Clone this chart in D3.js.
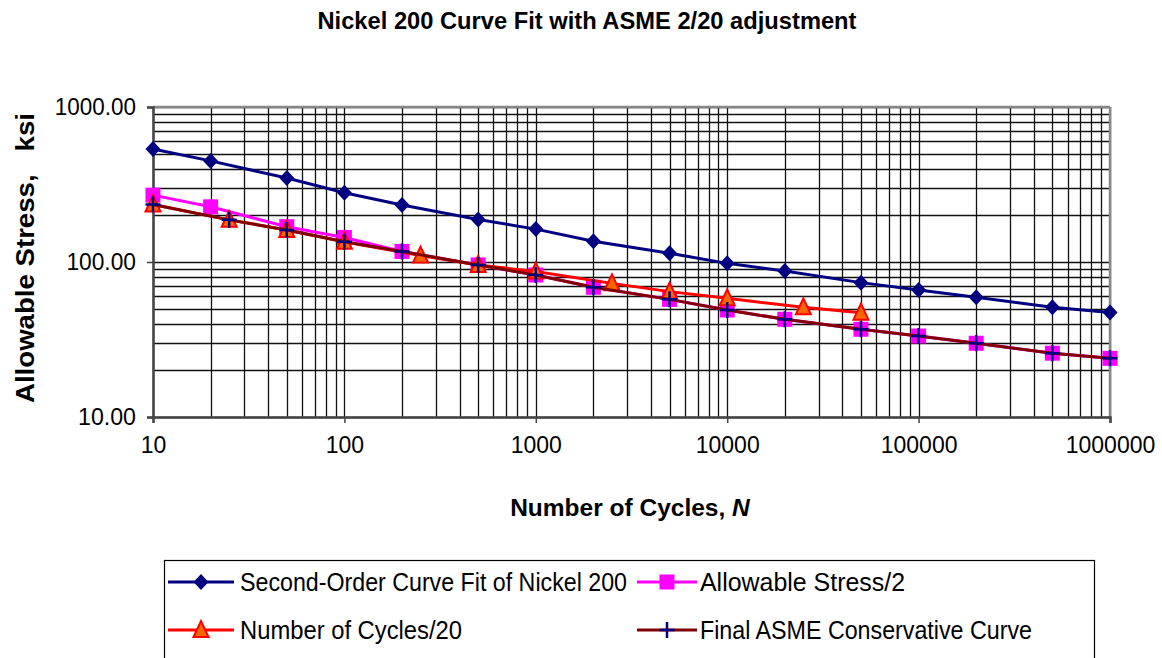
<!DOCTYPE html>
<html>
<head>
<meta charset="utf-8">
<script src="https://cdn.jsdelivr.net/npm/d3@7"></script>
<style>
  body { margin: 0; background: #fff; }
  text { font-family: "Liberation Sans", Arial, sans-serif; }
</style>
</head>
<body>
<div id="chart"></div>
<script>
// data
var cyclesFit = [10, 20, 50, 100, 200, 500, 1000, 2000, 5000, 10000, 20000, 50000, 100000, 200000, 500000, 1000000];
var stressFit = [536, 449, 348, 280, 233, 188, 163, 136, 114, 98, 87.5, 73.6, 66, 59.2, 51, 47.3];

var cyclesHalf = [10, 20, 50, 100, 200, 500, 1000, 2000, 5000, 10000, 20000, 50000, 100000, 200000, 500000, 1000000];
var stressHalf = [270, 227, 169, 144, 117, 95.7, 82.4, 68.7, 57.4, 49, 42.7, 36.8, 33.3, 29.9, 25.8, 23.9];

var cyclesTwentieth = [10, 25, 50, 100, 250, 500, 1000, 2500, 5000, 10000, 25000, 50000];
var stressTwentieth = [235, 187, 161, 135, 110, 95.7, 86.7, 72.8, 64.4, 58.3, 51, 47.1];

var cyclesFinal = [10, 25, 50, 100, 200, 500, 1000, 2000, 5000, 10000, 20000, 50000, 100000, 200000, 500000, 1000000];
var stressFinal = [235, 187, 161, 135, 117, 95.7, 82.4, 68.7, 57.4, 49, 42.7, 36.8, 33.3, 29.9, 25.8, 23.9];

var xTicks = [10, 100, 1000, 10000, 100000, 1000000];
var yTicks = [10, 100, 1000];

var seriesNames = ["Second-Order Curve Fit of Nickel 200", "Allowable Stress/2",
                   "Number of Cycles/20", "Final ASME Conservative Curve"];

/******************************setup***************************************/
var width = 1162, height = 658;

var svg = d3.select("#chart").append("svg")
	.attr("width", width)
	.attr("height", height);

var x = d3.scaleLog().domain([10, 1000000]).range([153, 1110]);
var y = d3.scaleLog().domain([10, 1000]).range([417, 107]);

// minor + major grid values, 1..9 per decade
function gridValues(lo, hi) {
	var out = [];
	for (var p = lo; p < hi; p *= 10)
		for (var k = 1; k <= 9; k++) out.push(k * p);
	out.push(hi);
	return out;
}

var grid = svg.append("g").attr("class", "grid");
grid.selectAll(".vgrid")
	.data(gridValues(10, 1000000))
	.enter().append("line")
	.attr("x1", function(d) { return Math.round(x(d)) + 0.5; })
	.attr("x2", function(d) { return Math.round(x(d)) + 0.5; })
	.attr("y1", y(1000)).attr("y2", y(10))
	.style("stroke", "#111")
	.style("stroke-width", 1.3);

grid.selectAll(".hgrid")
	.data(gridValues(10, 1000))
	.enter().append("line")
	.attr("y1", function(d) { return Math.round(y(d)) + 0.5; })
	.attr("y2", function(d) { return Math.round(y(d)) + 0.5; })
	.attr("x1", x(10)).attr("x2", x(1000000))
	.style("stroke", "#111")
	.style("stroke-width", 1.3);

// plot border (top/right grey), axes (left/bottom)
svg.append("line").attr("x1", x(10)).attr("x2", x(1000000)).attr("y1", y(1000)).attr("y2", y(1000))
	.style("stroke", "#888").style("stroke-width", 2.5);
svg.append("line").attr("x1", x(1000000)).attr("x2", x(1000000)).attr("y1", y(1000)).attr("y2", y(10))
	.style("stroke", "#888").style("stroke-width", 2.5);

var xAxis = svg.append("g")
	.attr("transform", "translate(0," + y(10) + ")")
	.call(d3.axisBottom(x).tickValues(xTicks).tickFormat(d3.format("d")).tickSize(6).tickPadding(14));
var yAxis = svg.append("g")
	.attr("transform", "translate(" + x(10) + ",0)")
	.call(d3.axisLeft(y).tickValues(yTicks).tickFormat(d3.format(".2f")).tickSize(6).tickPadding(11));

[xAxis, yAxis].forEach(function(a) {
	a.select(".domain").style("stroke", "#444").style("stroke-width", 2.5);
	a.selectAll(".tick line").style("stroke", "#444").style("stroke-width", 1.5);
	a.selectAll(".tick text")
		.style("font-size", "24px")
		.style("font-family", "'Liberation Sans', Arial, sans-serif")
		.style("fill", "#000")
		.attr("lengthAdjust", "spacingAndGlyphs");
});
xAxis.selectAll(".tick text").attr("dy", "0.66em")
	.attr("textLength", function(d) { return String(d).length * 12.8; });
yAxis.selectAll(".tick text")
	.attr("textLength", function(d) { return d3.format(".2f")(d).length * 11.6; });

/******************************markers***************************************/
function drawMarker(g, type, cx, cy) {
	if (type == "diamond") {
		g.append("path")
			.attr("d", "M" + cx + "," + (cy - 8) + "L" + (cx + 7.5) + "," + cy + "L" + cx + "," + (cy + 8) + "L" + (cx - 7.5) + "," + cy + "Z")
			.style("fill", "#000080");
	} else if (type == "square") {
		g.append("rect")
			.attr("x", cx - 7.5).attr("y", cy - 7.5).attr("width", 15).attr("height", 15)
			.style("fill", "#ff00ff");
	} else if (type == "triangle") {
		g.append("path")
			.attr("d", "M" + cx + "," + (cy - 9) + "L" + (cx + 7.5) + "," + (cy + 7) + "L" + (cx - 7.5) + "," + (cy + 7) + "Z")
			.style("fill", "#ff6600")
			.style("stroke", "#ff0000")
			.style("stroke-width", 2);
	} else if (type == "plus") {
		g.append("path")
			.attr("d", "M" + (cx - 7.5) + "," + cy + "H" + (cx + 7.5) + "M" + cx + "," + (cy - 8) + "V" + (cy + 8))
			.style("stroke", "#000080")
			.style("stroke-width", 2.5)
			.style("fill", "none");
	}
}

var series = [
	{ xs: cyclesFit, ys: stressFit, color: "#000080", width: 3, marker: "diamond" },
	{ xs: cyclesHalf, ys: stressHalf, color: "#ff00ff", width: 3, marker: "square" },
	{ xs: cyclesTwentieth, ys: stressTwentieth, color: "#ff0000", width: 3, marker: "triangle" },
	{ xs: cyclesFinal, ys: stressFinal, color: "#800000", width: 3, marker: "plus" }
];

var line = d3.line()
	.x(function(d) { return x(d[0]); })
	.y(function(d) { return y(d[1]); });

var plot = svg.append("g").attr("class", "plot");
series.forEach(function(s) {
	var pts = s.xs.map(function(v, i) { return [v, s.ys[i]]; });
	var g = plot.append("g");
	g.append("path")
		.datum(pts)
		.attr("d", line)
		.style("fill", "none")
		.style("stroke", s.color)
		.style("stroke-width", s.width)
		.style("stroke-linejoin", "round");
	pts.forEach(function(p) { drawMarker(g, s.marker, x(p[0]), y(p[1])); });
});

/******************************titles***************************************/
svg.append("text")
	.attr("x", 587).attr("y", 29)
	.attr("text-anchor", "middle")
	.attr("textLength", 539).attr("lengthAdjust", "spacingAndGlyphs")
	.style("font-size", "24px").style("font-weight", "bold")
	.text("Nickel 200 Curve Fit with ASME 2/20 adjustment");

svg.append("text")
	.attr("transform", "translate(34,258) rotate(-90)")
	.attr("text-anchor", "middle")
	.attr("textLength", 290).attr("lengthAdjust", "spacingAndGlyphs")
	.style("font-size", "25px").style("font-weight", "bold")
	.style("white-space", "pre")
	.text("Allowable Stress,   ksi");

var xt = svg.append("text")
	.attr("x", 630).attr("y", 516)
	.attr("text-anchor", "middle")
	.style("font-size", "24.5px").style("font-weight", "bold");
xt.append("tspan").text("Number of Cycles, ");
xt.append("tspan").style("font-style", "italic").text("N");

/******************************legend***************************************/
var legend = svg.append("g").attr("class", "legend");
legend.append("rect")
	.attr("x", 164.5).attr("y", 560.5).attr("width", 930).attr("height", 120)
	.style("fill", "#fff").style("stroke", "#000").style("stroke-width", 1.2);

var legendPos = [
	{ lx: 168, mx: 201, tx: 240, ty: 582, tw: 387 },
	{ lx: 637, mx: 667, tx: 700, ty: 582, tw: 205 },
	{ lx: 168, mx: 201, tx: 240, ty: 630, tw: 222 },
	{ lx: 637, mx: 667, tx: 700, ty: 630, tw: 332 }
];

series.forEach(function(s, i) {
	var p = legendPos[i];
	var g = legend.append("g");
	g.append("line")
		.attr("x1", p.lx).attr("x2", p.lx + 2 * (p.mx - p.lx))
		.attr("y1", p.ty).attr("y2", p.ty)
		.style("stroke", s.color).style("stroke-width", s.width);
	drawMarker(g, s.marker, p.mx, p.ty);
	g.append("text")
		.attr("x", p.tx).attr("y", p.ty + 9)
		.attr("textLength", p.tw).attr("lengthAdjust", "spacingAndGlyphs")
		.style("font-size", "25px")
		.text(seriesNames[i]);
});
</script>
</body>
</html>
